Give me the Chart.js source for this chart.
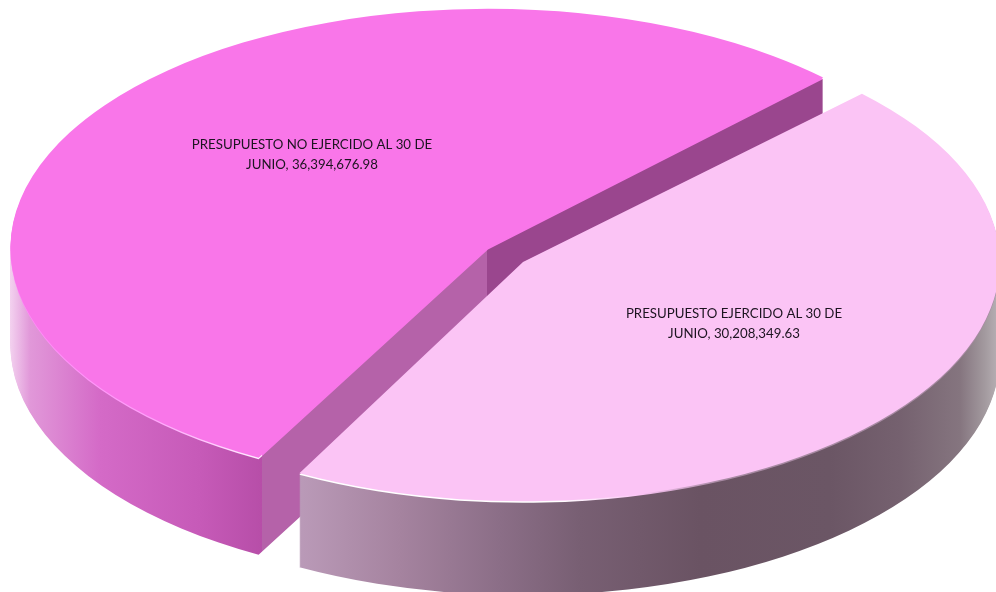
<!DOCTYPE html>
<html>
<head>
<meta charset="utf-8">
<title>Presupuesto</title>
<script src="https://cdn.jsdelivr.net/npm/chart.js@4"></script>
<style>
  html, body { margin: 0; padding: 0; background: #fff; overflow: hidden; }
  #wrap { width: 996px; height: 592px; position: relative; }
</style>
</head>
<body>
<div id="wrap"><canvas id="pie"></canvas></div>
<script>
const categories = ['PRESUPUESTO EJERCIDO AL 30 DE JUNIO', 'PRESUPUESTO NO EJERCIDO AL 30 DE JUNIO'];
const values = [30208349.63, 36394676.98];
const topColors = ['#fbc4f5', '#f976e9'];

// how each slice is laid flat: where its tip lands on screen, scale, thickness
const sliceShape = [
  { apex: [523, 262], sx: 1.01, sy: 0.507, depth: 94 },
  { apex: [488, 248], sx: 0.998, sy: 0.5, depth: 97 }
];

// label centres and wrap width
const labelSpots = [[734, 314], [312, 145]];
const labelWidth = 245;

// side shading by screen x: [x, colour]
const sideStops = [
  [[299, '#ba9ab8'], [400, '#a5839f'], [500, '#8b6e87'], [580, '#785f73'], [700, '#6a5363'], [830, '#6b5665'], [900, '#75616f'], [960, '#85757f'], [985, '#a39a9f'], [997, '#b5aeb2']],
  [[11, '#f2cfee'], [30, '#e198d9'], [100, '#d46ac7'], [200, '#c65ab8'], [262, '#b74ea8'], [262.01, '#b562a9'], [487, '#b562a9'], [487.01, '#9a468e'], [830, '#9a468e']]
];
const edgeStops = [
  [[299, '#ffffff'], [560, '#ffffff'], [640, '#fbc4f5'], [720, '#a88aa3'], [997, '#a88aa3']],
  [[11, '#ff86f6'], [150, '#ffa0fa'], [262, '#fff0ff'], [262.01, '#f976e9'], [830, '#f976e9']]
];

function withFill(arc, fill) {
  const copy = Object.create(arc);
  copy.options = Object.assign({}, arc.options, { backgroundColor: fill });
  return copy;
}

const disc3d = {
  id: 'disc3d',
  beforeDatasetsDraw(chart) {
    const ctx = chart.ctx;
    const arcs = chart.getDatasetMeta(0).data;

    const setup = arcs.map((arc, i) => {
      const s = sliceShape[i];
      const half = (arc.startAngle + arc.endAngle) / 2;
      const tx = Math.cos(half) * arc.options.offset / 4;
      const ty = Math.sin(half) * arc.options.offset / 4;
      const e = s.apex[0] - s.sx * (arc.x + tx);
      const f = s.apex[1] - s.sy * (arc.y + ty);
      return { arc, s, tx, e, f };
    });
    const place = (p, dy) => ctx.setTransform(p.s.sx, 0, 0, p.s.sy, p.e, p.f + dy);
    const shade = (p, stops) => {
      const x0 = stops[0][0], x1 = stops[stops.length - 1][0];
      const g = ctx.createLinearGradient((x0 - p.e) / p.s.sx - p.tx, 0, (x1 - p.e) / p.s.sx - p.tx, 0);
      stops.forEach(st => g.addColorStop((st[0] - x0) / (x1 - x0), st[1]));
      return g;
    };

    ctx.save();
    // the no-ejercido side goes first, the other one sits in front of it
    [1, 0].forEach(i => {
      const p = setup[i];
      const side = withFill(p.arc, shade(p, sideStops[i]));
      for (let d = p.s.depth; d >= 2; d--) {
        place(p, d);
        side.draw(ctx);
      }
      place(p, 1.5);
      withFill(p.arc, shade(p, edgeStops[i])).draw(ctx);
    });
    [1, 0].forEach(i => {
      place(setup[i], 0);
      setup[i].arc.draw(ctx);
    });
    ctx.restore();
  },
  // the slices are already drawn above
  beforeDatasetDraw() {
    return false;
  },
  afterDatasetsDraw(chart) {
    const ctx = chart.ctx;
    ctx.save();
    ctx.font = '13.25px Lato';
    ctx.fillStyle = '#1c1420';
    ctx.textAlign = 'center';
    ctx.textBaseline = 'middle';
    categories.forEach((name, i) => {
      const text = name + ', ' + values[i].toLocaleString('en-US', { minimumFractionDigits: 2 });
      const lines = [];
      let line = '';
      text.split(' ').forEach(w => {
        const next = line ? line + ' ' + w : w;
        if (ctx.measureText(next).width > labelWidth) { lines.push(line); line = w; } else { line = next; }
      });
      lines.push(line);
      lines.forEach((l, n) => ctx.fillText(l, labelSpots[i][0], labelSpots[i][1] + n * 20));
    });
    ctx.restore();
  }
};

new Chart(document.getElementById('pie'), {
  type: 'pie',
  data: {
    labels: categories,
    datasets: [{
      data: values,
      backgroundColor: topColors,
      borderWidth: 0,
      offset: 90,
      radius: 456,
      clip: false
    }]
  },
  options: {
    responsive: true,
    maintainAspectRatio: false,
    animation: false,
    events: [],
    rotation: 45,
    layout: { padding: { left: 16, right: 0, top: 0, bottom: 88 } },
    plugins: { legend: { display: false }, tooltip: { enabled: false } }
  },
  plugins: [disc3d]
});
</script>
</body>
</html>
